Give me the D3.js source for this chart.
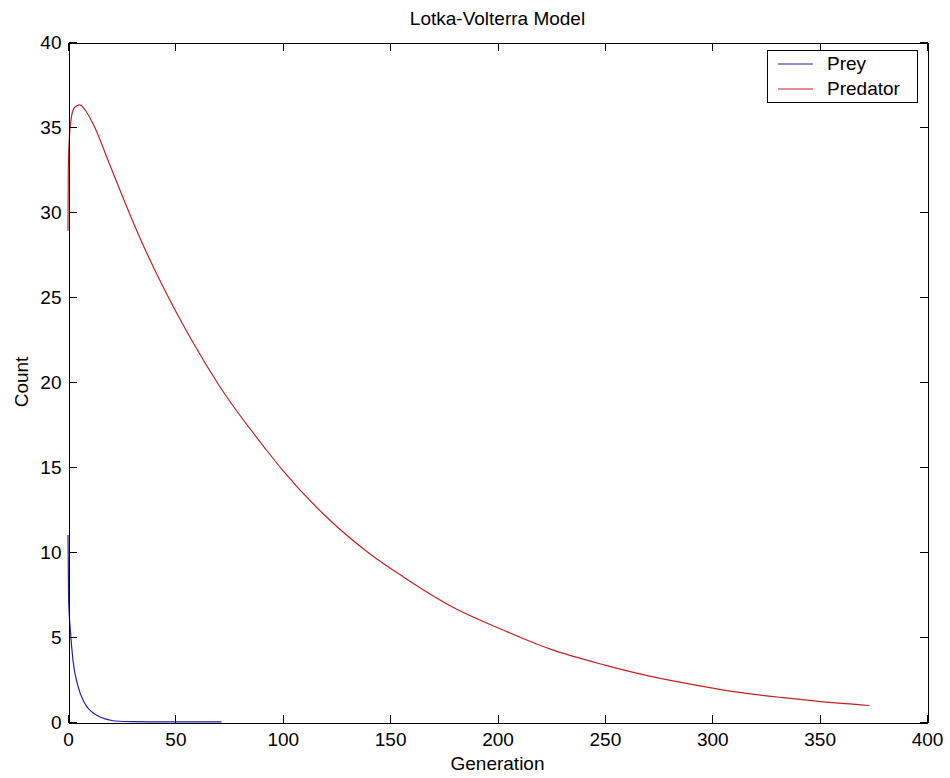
<!DOCTYPE html>
<html>
<head>
<meta charset="utf-8">
<script src="https://cdn.jsdelivr.net/npm/d3@7"></script>
<style>
  html, body { margin: 0; padding: 0; background: #fff; }
  svg { display: block; font-family: "Liberation Sans", Arial, sans-serif; }
</style>
</head>
<body>
<svg id="chart" width="950" height="778"></svg>
<script>
// ---- data ----
const title = "Lotka-Volterra Model";
const xLabel = "Generation";
const yLabel = "Count";
const seriesNames = ["Prey", "Predator"];
const xTicks = [0, 50, 100, 150, 200, 250, 300, 350, 400];
const yTicks = [0, 5, 10, 15, 20, 25, 30, 35, 40];

const preyGen   = [0, 0.3, 1.1, 2.3, 4.7, 7.8, 13.2, 19.4, 22, 30, 45, 60, 71.5];
const preyCount = [11.0, 7.2, 5.4, 3.65, 2.08, 1.1, 0.41, 0.12, 0.06, 0.02, 0.01, 0.01, 0.01];

const predGen   = [0, 0.15, 0.6, 1.5, 3.0, 5.4, 8, 11.6, 19.4, 27.2, 33.4, 42.7, 56.7, 70.6, 92.4, 100, 120, 140.5, 156, 179.3, 202.6, 224.3, 250, 270.9, 294.2, 312.8, 333, 348.5, 373.3];
const predCount = [28.9, 32.5, 34.3, 35.5, 36.15, 36.3, 36.0, 35.2, 32.8, 30.35, 28.5, 26.0, 22.66, 19.75, 16.0, 14.8, 12.1, 9.9, 8.55, 6.75, 5.41, 4.3, 3.35, 2.7, 2.13, 1.74, 1.43, 1.23, 0.97];

const colors = ["#1f1fb0", "#c42222"];

// ---- layout ----
const svg = d3.select("#chart");
const L = 68, R = 927, T = 42, B = 722;
const x = d3.scaleLinear().domain([0, 400]).range([L, R]);
const y = d3.scaleLinear().domain([0, 40]).range([B, T]);
const fs = 19;

const line = d3.line().x(d => x(d[0])).y(d => y(d[1])).curve(d3.curveMonotoneX);

const plot = svg.append("g");
plot.append("path")
  .attr("d", line(d3.zip(preyGen, preyCount)))
  .attr("fill", "none").attr("stroke", colors[0]).attr("stroke-width", 1.2);
plot.append("path")
  .attr("d", line(d3.zip(predGen, predCount)))
  .attr("fill", "none").attr("stroke", colors[1]).attr("stroke-width", 1.2);

// ---- axes ----
function styleAxis(g) {
  g.selectAll("path, line").attr("stroke", "#000").attr("shape-rendering", "crispEdges");
  g.selectAll("text").attr("fill", "#000").style("font-size", fs + "px")
    .style("font-family", "'Liberation Sans', Arial, sans-serif");
}
svg.append("g").attr("transform", `translate(0,${B + 0.5})`)
  .call(d3.axisBottom(x).tickValues(xTicks).tickSizeInner(-8).tickSizeOuter(0).tickPadding(10))
  .call(styleAxis);
svg.append("g").attr("transform", `translate(0,${T + 0.5})`)
  .call(d3.axisTop(x).tickValues(xTicks).tickSizeInner(-8).tickSizeOuter(0).tickFormat(""))
  .call(styleAxis);
svg.append("g").attr("transform", `translate(${L + 0.5},0)`)
  .call(d3.axisLeft(y).tickValues(yTicks).tickSizeInner(-8).tickSizeOuter(0).tickPadding(7))
  .call(styleAxis);
svg.append("g").attr("transform", `translate(${R + 0.5},0)`)
  .call(d3.axisRight(y).tickValues(yTicks).tickSizeInner(-8).tickSizeOuter(0).tickFormat(""))
  .call(styleAxis);
svg.selectAll(".domain").attr("fill", "none");

// ---- labels ----
svg.append("text").attr("x", (L + R) / 2).attr("y", 25)
  .attr("text-anchor", "middle").style("font-size", fs + "px").text(title);
svg.append("text").attr("x", (L + R) / 2).attr("y", 770)
  .attr("text-anchor", "middle").style("font-size", fs + "px").text(xLabel);
svg.append("text").attr("transform", `translate(28,${(T + B) / 2}) rotate(-90)`)
  .attr("text-anchor", "middle").style("font-size", fs + "px").text(yLabel);

// ---- legend ----
const lg = svg.append("g");
lg.append("rect").attr("x", 767.5).attr("y", 50.5).attr("width", 150).attr("height", 52)
  .attr("fill", "#fff").attr("stroke", "#000").attr("shape-rendering", "crispEdges");
seriesNames.forEach((name, i) => {
  const yy = 64 + i * 25;
  lg.append("line").attr("x1", 778).attr("x2", 813).attr("y1", yy).attr("y2", yy)
    .attr("stroke", colors[i]).attr("stroke-width", 1);
  lg.append("text").attr("x", 827).attr("y", yy + 6).style("font-size", fs + "px").text(name);
});
</script>
</body>
</html>
